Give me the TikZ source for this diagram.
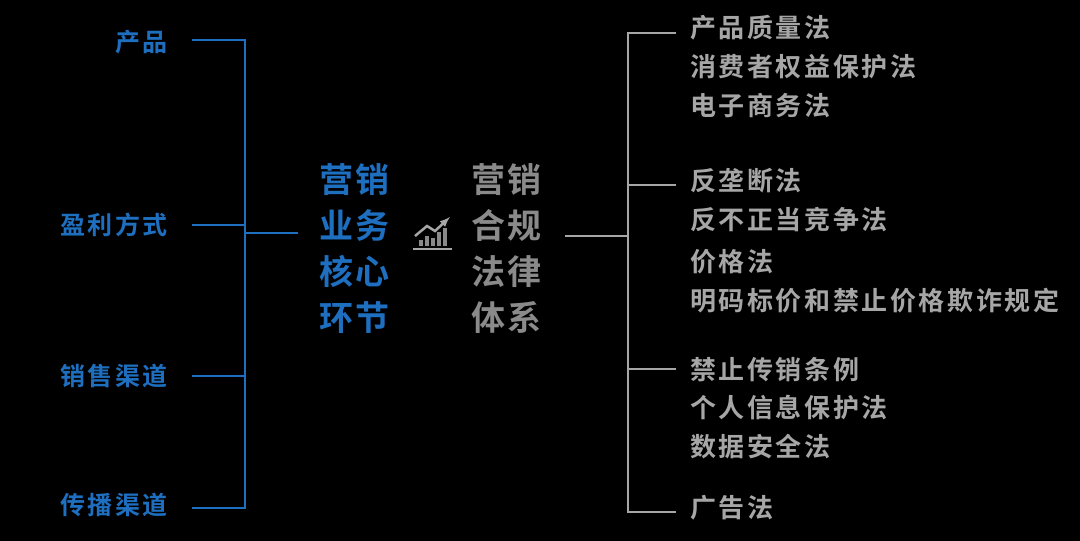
\documentclass[tikz,border=0pt]{standalone}
\usepackage{fontspec}
\newfontfamily\cjk[LetterSpace=10]{Noto Sans CJK SC Bold}
\newfontfamily\cjkbloc[LetterSpace=6]{Noto Sans CJK SC Bold}
\definecolor{lanse}{HTML}{1E6FBF}
\definecolor{huise}{HTML}{8A8A8A}
\definecolor{qianhui}{HTML}{A6A6A6}
\begin{document}
\begin{tikzpicture}[x=1pt,y=-1pt]
	\tikzstyle{gauche}=[anchor=east,text=lanse,font=\cjk\fontsize{25}{25}\selectfont,inner sep=0pt]
	\tikzstyle{droite}=[anchor=west,text=qianhui,font=\cjk\fontsize{26}{26}\selectfont,inner sep=0pt]
	\tikzstyle{bloc}=[align=center,font=\cjkbloc\fontsize{34}{46}\selectfont,inner sep=0pt]
	\tikzstyle{trait}=[line width=1.3pt]
	
	\fill[black] (0,0) rectangle (1080,541);
	\useasboundingbox (0,0) rectangle (1080,541);
	
	% gauche
	\node[gauche] (P) at (168,42) {产品};
	\node[gauche] (Y) at (168,225) {盈利方式};
	\node[gauche] (X) at (168,376) {销售渠道};
	\node[gauche] (C) at (168,505) {传播渠道};
	\coordinate (Ga) at (245,40);
	\coordinate (Gd) at (245,508);
	\coordinate (Gm) at (245,233);
	\draw[lanse,trait] (192,40) -- (Ga) -- (Gd) -- (192,508);
	\draw[lanse,trait] (192,225) -- (245,225);
	\draw[lanse,trait] (192,376) -- (245,376);
	\node[bloc,text=lanse] (B) at (355,249) {营销\\业务\\核心\\环节};
	\draw[lanse,trait] (Gm) -- (298,233);
	
	% icone
	\foreach \i/\h in {0/6,1/10,2/8,3/14,4/18}
		\fill[huise] ({419+6*\i},246) rectangle ({423+6*\i},{246-\h});
	\draw[qianhui,line width=2.5pt,->,>=latex] (415,236) -- (427,226) -- (435,231) -- (450,217);
	\draw[qianhui,line width=1.3pt] (413,249) -- (452,249);
	
	\node[bloc,text=huise] (L) at (507,249) {营销\\合规\\法律\\体系};
	
	% droite
	\coordinate (Da) at (628,33);
	\coordinate (Dd) at (628,512);
	\draw[qianhui,trait] (565,236) -- (628,236);
	\draw[qianhui,trait] (676,33) -- (Da) -- (Dd) -- (676,512);
	\draw[qianhui,trait] (628,185) -- (676,185);
	\draw[qianhui,trait] (628,369) -- (676,369);
	\foreach \t/\y in {产品质量法/28,消费者权益保护法/67,电子商务法/106,反垄断法/181,反不正当竞争法/220,价格法/262,明码标价和禁止价格欺诈规定/301,禁止传销条例/370,个人信息保护法/408,数据安全法/447,广告法/508}
		\node[droite] at (690,\y) {\t};
\end{tikzpicture}
\end{document}
